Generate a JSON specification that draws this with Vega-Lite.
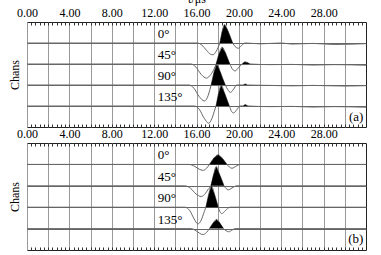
{
  "$schema": "https://vega.github.io/schema/vega-lite/v6.json",
  "background": "white",
  "padding": {"left": 7, "top": -9, "right": 0, "bottom": 0},
  "spacing": 16,
  "bounds": "flush",
  "config": {
    "view": {"stroke": "#222", "strokeWidth": 1},
    "font": "Liberation Serif",
    "axis": {"labelFont": "Liberation Serif", "labelFontSize": 12, "labelColor": "black", "titleFont": "Liberation Serif", "titleFontSize": 12, "titleFontWeight": "normal", "titleColor": "black"}
  },
  "datasets": {
    "a": [
      {"ch":"0°","base":4,"t":0,"y":4},{"ch":"0°","base":4,"t":16.1,"y":4},{"ch":"0°","base":4,"t":16.5,"y":3.9},{"ch":"0°","base":4,"t":16.95,"y":3.65},{"ch":"0°","base":4,"t":17.3,"y":3.47},{"ch":"0°","base":4,"t":17.55,"y":3.44},{"ch":"0°","base":4,"t":17.85,"y":3.6},{"ch":"0°","base":4,"t":18.05,"y":3.8},{"ch":"0°","base":4,"t":18.2,"y":4},{"ch":"0°","base":4,"t":18.42,"y":4.55},{"ch":"0°","base":4,"t":18.64,"y":4.88},{"ch":"0°","base":4,"t":18.88,"y":4.68},{"ch":"0°","base":4,"t":19.15,"y":4.35},{"ch":"0°","base":4,"t":19.42,"y":4},{"ch":"0°","base":4,"t":19.65,"y":3.83},{"ch":"0°","base":4,"t":19.95,"y":3.75},{"ch":"0°","base":4,"t":20.25,"y":3.88},{"ch":"0°","base":4,"t":20.6,"y":4},{"ch":"0°","base":4,"t":22,"y":3.96},{"ch":"0°","base":4,"t":24,"y":4},{"ch":"0°","base":4,"t":25,"y":3.95},{"ch":"0°","base":4,"t":27,"y":3.98},{"ch":"0°","base":4,"t":29,"y":3.93},{"ch":"0°","base":4,"t":32,"y":3.97},
      {"ch":"45°","base":3,"t":0,"y":3},{"ch":"45°","base":3,"t":15.5,"y":3},{"ch":"45°","base":3,"t":15.95,"y":2.85},{"ch":"45°","base":3,"t":16.45,"y":2.5},{"ch":"45°","base":3,"t":16.95,"y":2.33},{"ch":"45°","base":3,"t":17.35,"y":2.5},{"ch":"45°","base":3,"t":17.65,"y":2.75},{"ch":"45°","base":3,"t":17.85,"y":3},{"ch":"45°","base":3,"t":18.12,"y":3.48},{"ch":"45°","base":3,"t":18.42,"y":3.8},{"ch":"45°","base":3,"t":18.72,"y":3.55},{"ch":"45°","base":3,"t":18.95,"y":3.25},{"ch":"45°","base":3,"t":19.15,"y":3},{"ch":"45°","base":3,"t":19.4,"y":2.75},{"ch":"45°","base":3,"t":19.65,"y":2.67},{"ch":"45°","base":3,"t":19.95,"y":2.82},{"ch":"45°","base":3,"t":20.3,"y":3},{"ch":"45°","base":3,"t":20.55,"y":3.1},{"ch":"45°","base":3,"t":20.85,"y":3.06},{"ch":"45°","base":3,"t":21.05,"y":3},{"ch":"45°","base":3,"t":23,"y":2.97},{"ch":"45°","base":3,"t":25,"y":2.98},{"ch":"45°","base":3,"t":27,"y":2.95},{"ch":"45°","base":3,"t":29,"y":2.97},{"ch":"45°","base":3,"t":32,"y":2.94},
      {"ch":"90°","base":2,"t":0,"y":2},{"ch":"90°","base":2,"t":15.3,"y":2},{"ch":"90°","base":2,"t":15.75,"y":1.85},{"ch":"90°","base":2,"t":16.25,"y":1.45},{"ch":"90°","base":2,"t":16.75,"y":1.24},{"ch":"90°","base":2,"t":17.1,"y":1.5},{"ch":"90°","base":2,"t":17.25,"y":1.75},{"ch":"90°","base":2,"t":17.38,"y":2},{"ch":"90°","base":2,"t":17.65,"y":2.6},{"ch":"90°","base":2,"t":17.92,"y":3.0},{"ch":"90°","base":2,"t":18.22,"y":2.65},{"ch":"90°","base":2,"t":18.48,"y":2.3},{"ch":"90°","base":2,"t":18.72,"y":2},{"ch":"90°","base":2,"t":18.95,"y":1.78},{"ch":"90°","base":2,"t":19.2,"y":1.65},{"ch":"90°","base":2,"t":19.5,"y":1.8},{"ch":"90°","base":2,"t":19.8,"y":2},{"ch":"90°","base":2,"t":20.4,"y":2},{"ch":"90°","base":2,"t":20.6,"y":2.05},{"ch":"90°","base":2,"t":20.8,"y":2},{"ch":"90°","base":2,"t":23,"y":1.98},{"ch":"90°","base":2,"t":25,"y":1.96},{"ch":"90°","base":2,"t":27,"y":1.98},{"ch":"90°","base":2,"t":30,"y":1.95},{"ch":"90°","base":2,"t":32,"y":1.97},
      {"ch":"135°","base":1,"t":0,"y":1},{"ch":"135°","base":1,"t":15.8,"y":1},{"ch":"135°","base":1,"t":16.25,"y":0.85},{"ch":"135°","base":1,"t":16.75,"y":0.4},{"ch":"135°","base":1,"t":17.15,"y":0.18},{"ch":"135°","base":1,"t":17.45,"y":0.4},{"ch":"135°","base":1,"t":17.68,"y":0.75},{"ch":"135°","base":1,"t":17.84,"y":1},{"ch":"135°","base":1,"t":18.08,"y":1.6},{"ch":"135°","base":1,"t":18.33,"y":2.0},{"ch":"135°","base":1,"t":18.62,"y":1.65},{"ch":"135°","base":1,"t":18.88,"y":1.3},{"ch":"135°","base":1,"t":19.1,"y":1},{"ch":"135°","base":1,"t":19.3,"y":0.75},{"ch":"135°","base":1,"t":19.5,"y":0.67},{"ch":"135°","base":1,"t":19.8,"y":0.82},{"ch":"135°","base":1,"t":20.1,"y":1},{"ch":"135°","base":1,"t":20.4,"y":1},{"ch":"135°","base":1,"t":20.6,"y":1.07},{"ch":"135°","base":1,"t":20.85,"y":1},{"ch":"135°","base":1,"t":23,"y":0.97},{"ch":"135°","base":1,"t":25,"y":0.98},{"ch":"135°","base":1,"t":27,"y":0.95},{"ch":"135°","base":1,"t":29,"y":0.97},{"ch":"135°","base":1,"t":32,"y":0.94}
    ],
    "b": [
      {"ch":"0°","base":4,"t":0,"y":4},{"ch":"0°","base":4,"t":15.3,"y":4},{"ch":"0°","base":4,"t":15.85,"y":3.9},{"ch":"0°","base":4,"t":16.25,"y":3.78},{"ch":"0°","base":4,"t":16.6,"y":3.72},{"ch":"0°","base":4,"t":16.95,"y":3.82},{"ch":"0°","base":4,"t":17.22,"y":4},{"ch":"0°","base":4,"t":17.65,"y":4.3},{"ch":"0°","base":4,"t":18.04,"y":4.45},{"ch":"0°","base":4,"t":18.45,"y":4.28},{"ch":"0°","base":4,"t":18.88,"y":4},{"ch":"0°","base":4,"t":19.1,"y":3.88},{"ch":"0°","base":4,"t":19.35,"y":3.82},{"ch":"0°","base":4,"t":19.75,"y":3.92},{"ch":"0°","base":4,"t":20.15,"y":4},{"ch":"0°","base":4,"t":32,"y":4},
      {"ch":"45°","base":3,"t":0,"y":3},{"ch":"45°","base":3,"t":14.9,"y":3},{"ch":"45°","base":3,"t":15.45,"y":2.88},{"ch":"45°","base":3,"t":15.95,"y":2.62},{"ch":"45°","base":3,"t":16.45,"y":2.5},{"ch":"45°","base":3,"t":16.85,"y":2.65},{"ch":"45°","base":3,"t":17.12,"y":2.85},{"ch":"45°","base":3,"t":17.35,"y":3},{"ch":"45°","base":3,"t":17.6,"y":3.5},{"ch":"45°","base":3,"t":17.86,"y":3.9},{"ch":"45°","base":3,"t":18.12,"y":3.6},{"ch":"45°","base":3,"t":18.38,"y":3.28},{"ch":"45°","base":3,"t":18.6,"y":3},{"ch":"45°","base":3,"t":18.8,"y":2.87},{"ch":"45°","base":3,"t":19.0,"y":2.81},{"ch":"45°","base":3,"t":19.35,"y":2.9},{"ch":"45°","base":3,"t":19.8,"y":3},{"ch":"45°","base":3,"t":32,"y":3},
      {"ch":"90°","base":2,"t":0,"y":2},{"ch":"90°","base":2,"t":14.9,"y":2},{"ch":"90°","base":2,"t":15.35,"y":1.85},{"ch":"90°","base":2,"t":15.78,"y":1.45},{"ch":"90°","base":2,"t":16.13,"y":1.22},{"ch":"90°","base":2,"t":16.45,"y":1.4},{"ch":"90°","base":2,"t":16.68,"y":1.72},{"ch":"90°","base":2,"t":16.88,"y":2},{"ch":"90°","base":2,"t":17.13,"y":2.55},{"ch":"90°","base":2,"t":17.4,"y":3.0},{"ch":"90°","base":2,"t":17.7,"y":2.6},{"ch":"90°","base":2,"t":17.88,"y":2.3},{"ch":"90°","base":2,"t":18.05,"y":2},{"ch":"90°","base":2,"t":18.2,"y":1.8},{"ch":"90°","base":2,"t":18.38,"y":1.7},{"ch":"90°","base":2,"t":18.75,"y":1.85},{"ch":"90°","base":2,"t":19.15,"y":2},{"ch":"90°","base":2,"t":32,"y":2},
      {"ch":"135°","base":1,"t":0,"y":1},{"ch":"135°","base":1,"t":15.5,"y":1},{"ch":"135°","base":1,"t":15.95,"y":0.9},{"ch":"135°","base":1,"t":16.3,"y":0.78},{"ch":"135°","base":1,"t":16.6,"y":0.72},{"ch":"135°","base":1,"t":16.95,"y":0.82},{"ch":"135°","base":1,"t":17.22,"y":1},{"ch":"135°","base":1,"t":17.55,"y":1.25},{"ch":"135°","base":1,"t":17.9,"y":1.43},{"ch":"135°","base":1,"t":18.22,"y":1.25},{"ch":"135°","base":1,"t":18.55,"y":1},{"ch":"135°","base":1,"t":18.8,"y":0.9},{"ch":"135°","base":1,"t":19.05,"y":0.85},{"ch":"135°","base":1,"t":19.35,"y":0.93},{"ch":"135°","base":1,"t":19.65,"y":1},{"ch":"135°","base":1,"t":32,"y":1}
    ],
    "labs": [{"lab":"0°","base":4},{"lab":"45°","base":3},{"lab":"90°","base":2},{"lab":"135°","base":1}]
  },
  "vconcat": [
    {
      "width": 339, "height": 105,
      "resolve": {"axis": {"x": "independent"}},
      "layer": [
        {
          "data": {"name": "a"},
          "mark": {"type": "line", "color": "#666", "strokeWidth": 1, "interpolate": "monotone"},
          "encoding": {
            "x": {"field": "t", "type": "quantitative", "scale": {"domain": [0, 32], "nice": false, "zero": false},
              "axis": {"orient": "top", "title": "t/μs", "titlePadding": 1, "values": [0,2,4,6,8,10,12,14,16,18,20,22,24,26,28,30], "labelExpr": "datum.value % 4 == 0 ? format(datum.value, '.2f') : ''", "grid": true, "gridColor": "#999", "ticks": false, "tickSize": 0, "domain": false, "labelPadding": 3, "labelFlush": false, "labelOverlap": false}},
            "y": {"field": "y", "type": "quantitative", "scale": {"domain": [0, 5], "nice": false, "zero": false},
              "axis": {"title": "Chans", "values": [1,2,3,4], "grid": true, "gridColor": "#666", "labels": false, "ticks": false, "domain": false, "titlePadding": 6}},
            "detail": {"field": "ch"}
          }
        },
        {
          "data": {"name": "a"},
          "transform": [{"filter": "datum.y >= datum.base"}],
          "mark": {"type": "area", "color": "black", "interpolate": "linear"},
          "encoding": {
            "x": {"field": "t", "type": "quantitative",
              "axis": {"orient": "top", "title": null, "values": [0.4,0.8,1.2,1.6,2,2.4,2.8,3.2,3.6,4,4.4,4.8,5.2,5.6,6,6.4,6.8,7.2,7.6,8,8.4,8.8,9.2,9.6,10,10.4,10.8,11.2,11.6,12,12.4,12.8,13.2,13.6,14,14.4,14.8,15.2,15.6,16,16.4,16.8,17.2,17.6,18,18.4,18.8,19.2,19.6,20,20.4,20.8,21.2,21.6,22,22.4,22.8,23.2,23.6,24,24.4,24.8,25.2,25.6,26,26.4,26.8,27.2,27.6,28,28.4,28.8,29.2,29.6,30,30.4,30.8,31.2,31.6], "labels": false, "grid": false, "domain": false, "tickSize": -3, "tickColor": "#333"}},
            "y": {"field": "y", "type": "quantitative",
              "axis": {"title": "Chans", "values": [1,2,3,4], "grid": true, "gridColor": "#666", "labels": false, "ticks": false, "domain": false, "titlePadding": 6}},
            "y2": {"field": "base"},
            "detail": {"field": "ch"}
          }
        },
        {
          "data": {"name": "labs"},
          "mark": {"type": "text", "align": "left", "baseline": "middle", "dy": -9, "font": "Liberation Serif", "fontSize": 13, "color": "black"},
          "encoding": {
            "x": {"datum": 12.35, "type": "quantitative",
              "axis": {"orient": "bottom", "title": null, "values": [0.4,0.8,1.2,1.6,2,2.4,2.8,3.2,3.6,4,4.4,4.8,5.2,5.6,6,6.4,6.8,7.2,7.6,8,8.4,8.8,9.2,9.6,10,10.4,10.8,11.2,11.6,12,12.4,12.8,13.2,13.6,14,14.4,14.8,15.2,15.6,16,16.4,16.8,17.2,17.6,18,18.4,18.8,19.2,19.6,20,20.4,20.8,21.2,21.6,22,22.4,22.8,23.2,23.6,24,24.4,24.8,25.2,25.6,26,26.4,26.8,27.2,27.6,28,28.4,28.8,29.2,29.6,30,30.4,30.8,31.2,31.6], "labels": false, "grid": false, "domain": false, "tickSize": -3, "tickColor": "#333"}},
            "y": {"field": "base", "type": "quantitative",
              "axis": {"title": "Chans", "values": [1,2,3,4], "grid": true, "gridColor": "#666", "labels": false, "ticks": false, "domain": false, "titlePadding": 6}},
            "text": {"field": "lab"}
          }
        },
        {
          "data": {"values": [{"lab": "(a)"}]},
          "mark": {"type": "text", "align": "right", "baseline": "middle", "font": "Liberation Serif", "fontSize": 13, "color": "black"},
          "encoding": {
            "x": {"datum": 31.75, "type": "quantitative", "axis": null},
            "y": {"datum": 0.5, "type": "quantitative",
              "axis": {"title": "Chans", "values": [1,2,3,4], "grid": true, "gridColor": "#666", "labels": false, "ticks": false, "domain": false, "titlePadding": 6}},
            "text": {"field": "lab"}
          }
        }
      ]
    },
    {
      "width": 339, "height": 107,
      "resolve": {"axis": {"x": "independent"}},
      "layer": [
        {
          "data": {"name": "b"},
          "mark": {"type": "line", "color": "#666", "strokeWidth": 1, "interpolate": "monotone"},
          "encoding": {
            "x": {"field": "t", "type": "quantitative", "scale": {"domain": [0, 32], "nice": false, "zero": false},
              "axis": {"orient": "top", "title": null, "values": [0,2,4,6,8,10,12,14,16,18,20,22,24,26,28,30], "labelExpr": "datum.value % 4 == 0 ? format(datum.value, '.2f') : ''", "grid": true, "gridColor": "#999", "ticks": false, "tickSize": 0, "domain": false, "labelPadding": 3, "labelFlush": false, "labelOverlap": false}},
            "y": {"field": "y", "type": "quantitative", "scale": {"domain": [0, 5], "nice": false, "zero": false},
              "axis": {"title": "Chans", "values": [1,2,3,4], "grid": true, "gridColor": "#666", "labels": false, "ticks": false, "domain": false, "titlePadding": 6}},
            "detail": {"field": "ch"}
          }
        },
        {
          "data": {"name": "b"},
          "transform": [{"filter": "datum.y >= datum.base"}],
          "mark": {"type": "area", "color": "black", "interpolate": "linear"},
          "encoding": {
            "x": {"field": "t", "type": "quantitative",
              "axis": {"orient": "top", "title": null, "values": [0.4,0.8,1.2,1.6,2,2.4,2.8,3.2,3.6,4,4.4,4.8,5.2,5.6,6,6.4,6.8,7.2,7.6,8,8.4,8.8,9.2,9.6,10,10.4,10.8,11.2,11.6,12,12.4,12.8,13.2,13.6,14,14.4,14.8,15.2,15.6,16,16.4,16.8,17.2,17.6,18,18.4,18.8,19.2,19.6,20,20.4,20.8,21.2,21.6,22,22.4,22.8,23.2,23.6,24,24.4,24.8,25.2,25.6,26,26.4,26.8,27.2,27.6,28,28.4,28.8,29.2,29.6,30,30.4,30.8,31.2,31.6], "labels": false, "grid": false, "domain": false, "tickSize": -3, "tickColor": "#333"}},
            "y": {"field": "y", "type": "quantitative",
              "axis": {"title": "Chans", "values": [1,2,3,4], "grid": true, "gridColor": "#666", "labels": false, "ticks": false, "domain": false, "titlePadding": 6}},
            "y2": {"field": "base"},
            "detail": {"field": "ch"}
          }
        },
        {
          "data": {"name": "labs"},
          "mark": {"type": "text", "align": "left", "baseline": "middle", "dy": -9, "font": "Liberation Serif", "fontSize": 13, "color": "black"},
          "encoding": {
            "x": {"datum": 12.35, "type": "quantitative",
              "axis": {"orient": "bottom", "title": null, "values": [0.4,0.8,1.2,1.6,2,2.4,2.8,3.2,3.6,4,4.4,4.8,5.2,5.6,6,6.4,6.8,7.2,7.6,8,8.4,8.8,9.2,9.6,10,10.4,10.8,11.2,11.6,12,12.4,12.8,13.2,13.6,14,14.4,14.8,15.2,15.6,16,16.4,16.8,17.2,17.6,18,18.4,18.8,19.2,19.6,20,20.4,20.8,21.2,21.6,22,22.4,22.8,23.2,23.6,24,24.4,24.8,25.2,25.6,26,26.4,26.8,27.2,27.6,28,28.4,28.8,29.2,29.6,30,30.4,30.8,31.2,31.6], "labels": false, "grid": false, "domain": false, "tickSize": -3, "tickColor": "#333"}},
            "y": {"field": "base", "type": "quantitative",
              "axis": {"title": "Chans", "values": [1,2,3,4], "grid": true, "gridColor": "#666", "labels": false, "ticks": false, "domain": false, "titlePadding": 6}},
            "text": {"field": "lab"}
          }
        },
        {
          "data": {"values": [{"lab": "(b)"}]},
          "mark": {"type": "text", "align": "right", "baseline": "middle", "font": "Liberation Serif", "fontSize": 13, "color": "black"},
          "encoding": {
            "x": {"datum": 31.75, "type": "quantitative", "axis": null},
            "y": {"datum": 0.5, "type": "quantitative",
              "axis": {"title": "Chans", "values": [1,2,3,4], "grid": true, "gridColor": "#666", "labels": false, "ticks": false, "domain": false, "titlePadding": 6}},
            "text": {"field": "lab"}
          }
        }
      ]
    }
  ]
}
